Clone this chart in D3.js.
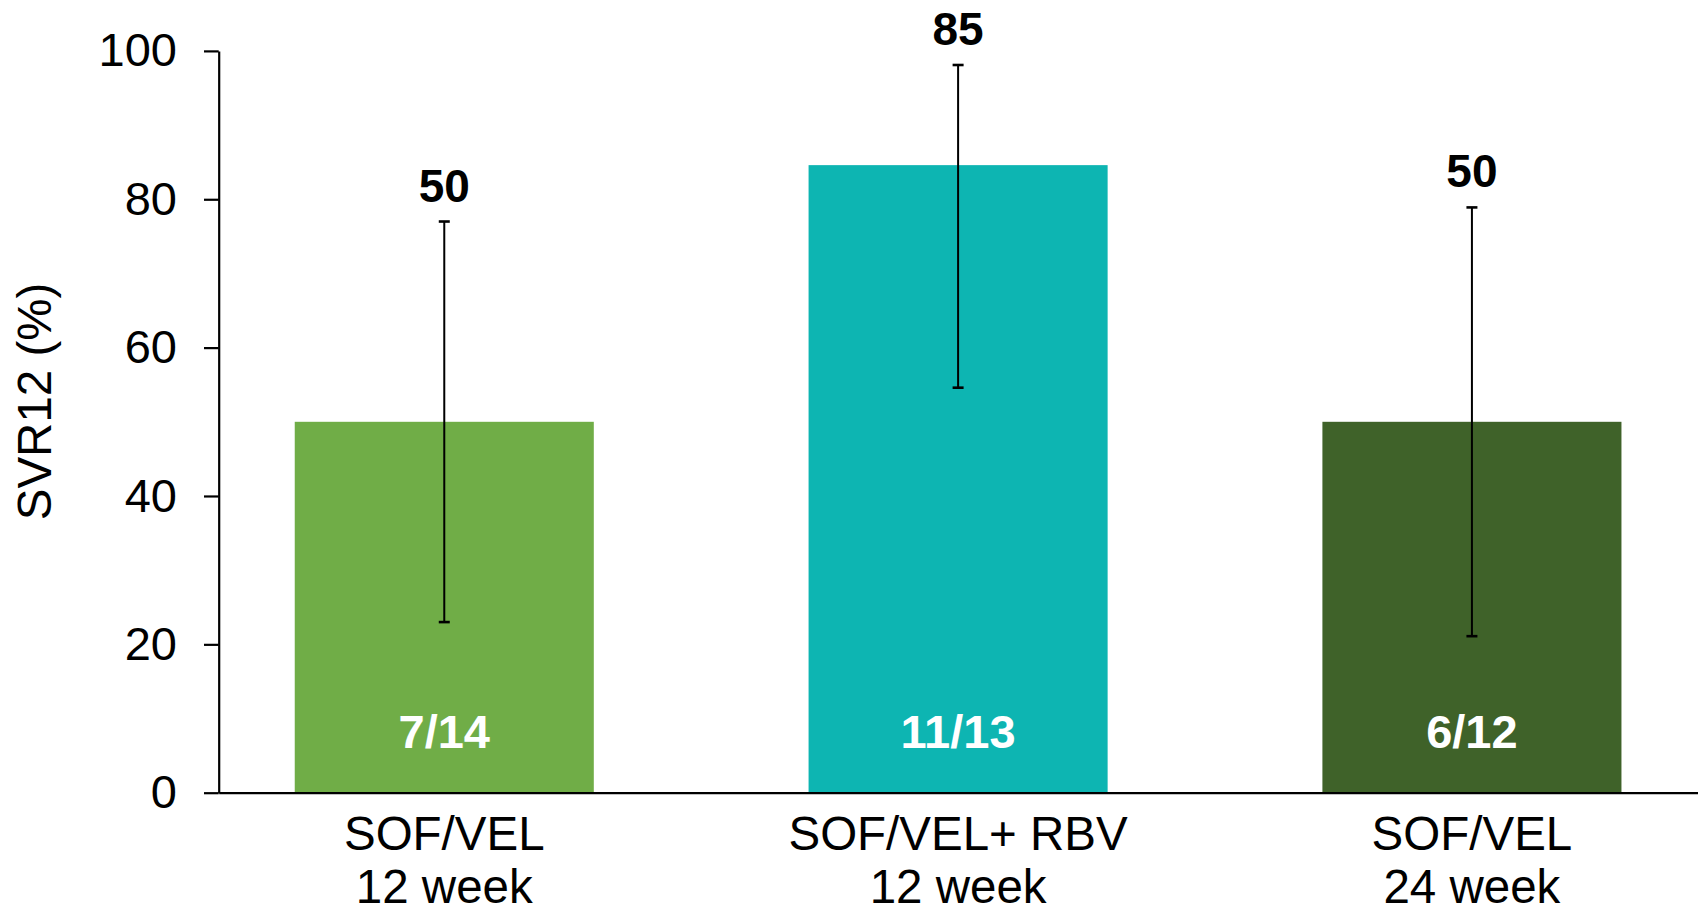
<!DOCTYPE html>
<html>
<head>
<meta charset="utf-8">
<script src="https://cdn.jsdelivr.net/npm/d3@7"></script>
<style>
  html, body { margin: 0; padding: 0; background: #fff; }
  svg { display: block; }
  text { font-family: "Liberation Sans", Arial, sans-serif; }
</style>
</head>
<body>
<svg id="chart" width="1698" height="913"></svg>
<script>
// Treatment arms
const regimens  = ["SOF/VEL", "SOF/VEL+ RBV", "SOF/VEL"];
const durations = ["12 week", "12 week", "24 week"];
// SVR12 rate (%) with 95% confidence interval
const svr       = [50, 84.6, 50];
const ciLow     = [23.0, 54.6, 21.1];
const ciHigh    = [77.0, 98.1, 78.9];
// Patients achieving SVR12 / patients treated
const responders = ["7/14", "11/13", "6/12"];
const yTicks    = [0, 20, 40, 60, 80, 100];
const barColors = ["#70AD47", "#0DB5B2", "#3F6229"];

const svg = d3.select("#chart");
const plotLeft = 218.7, plotRight = 1697.5, plotTop = 50.9, plotBottom = 792.7;

const arms = regimens.map((r, i) => i);

const x = d3.scaleBand()
  .domain(arms)
  .range([plotLeft, plotRight])
  .paddingInner(0.418)
  .paddingOuter(0.148);

const y = d3.scaleLinear().domain([0, 100]).range([plotBottom, plotTop]);

// Bars
svg.append("g").selectAll("rect")
  .data(arms)
  .join("rect")
  .attr("x", i => x(i))
  .attr("y", i => y(svr[i]))
  .attr("width", x.bandwidth())
  .attr("height", i => y(0) - y(svr[i]))
  .attr("fill", i => barColors[i]);

// Y axis
const yAxis = svg.append("g")
  .attr("transform", `translate(${plotLeft},0)`)
  .call(d3.axisLeft(y).tickValues(yTicks).tickSize(14.7).tickSizeOuter(0).tickPadding(27));
yAxis.select(".domain").attr("stroke", "#000").attr("stroke-width", 2.2);
yAxis.selectAll(".tick line").attr("stroke", "#000").attr("stroke-width", 2.2);
yAxis.selectAll(".tick text")
  .attr("font-size", 47)
  .attr("fill", "#000")
  .attr("font-family", "'Liberation Sans', Arial, sans-serif");

// X axis
const xAxis = svg.append("g")
  .attr("transform", `translate(0,${plotBottom})`)
  .call(d3.axisBottom(x).tickSize(0).tickSizeOuter(0).tickFormat(""));
xAxis.select(".domain").attr("stroke", "#000").attr("stroke-width", 2.2);

// Category labels (two lines)
const cat = svg.append("g").selectAll("text")
  .data(arms)
  .join("text")
  .attr("text-anchor", "middle")
  .attr("font-size", 47.5)
  .attr("fill", "#000");
cat.append("tspan")
  .attr("x", i => x(i) + x.bandwidth() / 2)
  .attr("y", plotBottom + 57)
  .text(i => regimens[i]);
cat.append("tspan")
  .attr("x", i => x(i) + x.bandwidth() / 2)
  .attr("y", plotBottom + 110)
  .text(i => durations[i]);

// Error bars
const err = svg.append("g").attr("stroke", "#000");
arms.forEach(i => {
  const cx = x(i) + x.bandwidth() / 2;
  err.append("line")
    .attr("x1", cx).attr("x2", cx)
    .attr("y1", y(ciLow[i])).attr("y2", y(ciHigh[i]))
    .attr("stroke-width", 2);
  [ciLow[i], ciHigh[i]].forEach(v => {
    err.append("line")
      .attr("x1", cx - 5.5).attr("x2", cx + 5.5)
      .attr("y1", y(v)).attr("y2", y(v))
      .attr("stroke-width", 2.6);
  });
});

// SVR12 value labels above the interval
svg.append("g").selectAll("text")
  .data(arms)
  .join("text")
  .attr("x", i => x(i) + x.bandwidth() / 2)
  .attr("y", i => y(ciHigh[i]) - 20)
  .attr("text-anchor", "middle")
  .attr("font-size", 46)
  .attr("font-weight", "bold")
  .attr("fill", "#000")
  .text(i => d3.format(".0f")(svr[i]));

// Responder counts inside the bars
svg.append("g").selectAll("text")
  .data(arms)
  .join("text")
  .attr("x", i => x(i) + x.bandwidth() / 2)
  .attr("y", y(0) - 45)
  .attr("text-anchor", "middle")
  .attr("font-size", 47)
  .attr("font-weight", "bold")
  .attr("fill", "#fff")
  .text(i => responders[i]);

// Y axis title
svg.append("text")
  .attr("transform", `translate(51,401.5) rotate(-90)`)
  .attr("text-anchor", "middle")
  .attr("font-size", 47.5)
  .attr("fill", "#000")
  .text("SVR12 (%)");
</script>
</body>
</html>
